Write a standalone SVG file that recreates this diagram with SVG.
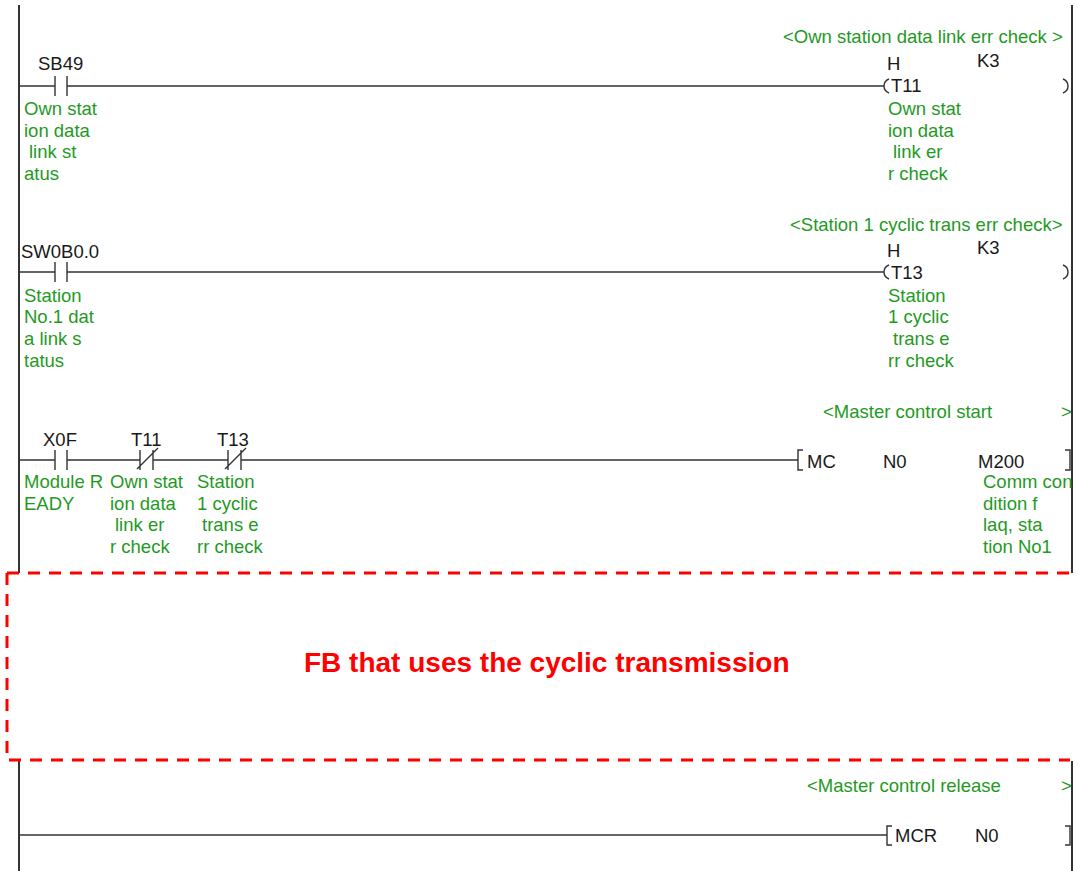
<svg xmlns="http://www.w3.org/2000/svg" width="1078" height="871" viewBox="0 0 1078 871">
<style>
  .t { font-family: "Liberation Sans", Arial, sans-serif; font-size: 18.5px; fill: #1a1a1a; }
  .c { font-family: "Liberation Sans", Arial, sans-serif; font-size: 18.5px; fill: #1f9a1f; }
  .w { fill: none; stroke: #333; stroke-width: 1.3; }
  .rail { fill: none; stroke: #333; stroke-width: 2; }
  .sym { fill: none; stroke: #333; stroke-width: 1.4; }
  .dash { fill: none; stroke: #ff0000; stroke-width: 3; stroke-dasharray: 12 9; }
  .fb { font-family: "Liberation Sans", Arial, sans-serif; font-size: 28px; font-weight: bold; fill: #ff0000; }
</style>
<defs>
  <g id="no">
    <path class="sym" d="M0,-10 V10 M12,-10 V10"/>
  </g>
  <g id="nc">
    <path class="sym" d="M0,-10 V10 M13,-10 V10 M-3,9 L18,-12"/>
  </g>
</defs>
<rect width="1078" height="871" fill="#fff"/>

<g id="connectors">
  <path class="rail" d="M19,5 V573 M1072,5 V573 M19,761 V871 M1072,761 V871"/>
  <path class="w" d="M19,86 H55 M67,86 H884"/>
  <path class="w" d="M19,272 H55 M67,272 H884"/>
  <path class="w" d="M19,460 H55 M67,460 H140 M153,460 H228 M241,460 H798"/>
  <path class="w" d="M19,835 H887"/>
</g>

<g id="fb-region">
  <path class="dash" d="M7,573 H1070"/>
  <path class="dash" d="M7,573 V760 H1070"/>
  <text class="fb" x="304" y="672">FB that uses the cyclic transmission</text>
</g>

<g id="rung1-comment">
  <text class="c" x="783" y="43">&lt;Own station data link err check &gt;</text>
</g>
<g id="contact-SB49">
  <use href="#no" x="55" y="86"/>
  <text class="t" x="38" y="70">SB49</text>
  <text class="c" x="24" y="115">Own stat</text>
  <text class="c" x="24" y="137">ion data</text>
  <text class="c" x="29" y="158">link st</text>
  <text class="c" x="24" y="180">atus</text>
</g>
<g id="coil-T11">
  <path class="sym" d="M889,79 Q884,81 884,86 Q884,91 889,93 M1063,79 Q1068,81 1068,86 Q1068,91 1063,93"/>
  <text class="t" x="887" y="70">H</text>
  <text class="t" x="977" y="67">K3</text>
  <text class="t" x="891" y="92">T11</text>
  <text class="c" x="888" y="115">Own stat</text>
  <text class="c" x="888" y="137">ion data</text>
  <text class="c" x="893" y="158">link er</text>
  <text class="c" x="888" y="180">r check</text>
</g>

<g id="rung2-comment">
  <text class="c" x="790" y="231">&lt;Station 1 cyclic trans err check&gt;</text>
</g>
<g id="contact-SW0B0.0">
  <use href="#no" x="55" y="272"/>
  <text class="t" x="21" y="258">SW0B0.0</text>
  <text class="c" x="24" y="302">Station</text>
  <text class="c" x="24" y="323">No.1 dat</text>
  <text class="c" x="24" y="345">a link s</text>
  <text class="c" x="24" y="367">tatus</text>
</g>
<g id="coil-T13">
  <path class="sym" d="M889,265 Q884,267 884,272 Q884,277 889,279 M1063,265 Q1068,267 1068,272 Q1068,277 1063,279"/>
  <text class="t" x="887" y="257">H</text>
  <text class="t" x="977" y="254">K3</text>
  <text class="t" x="891" y="279">T13</text>
  <text class="c" x="888" y="302">Station</text>
  <text class="c" x="888" y="323">1 cyclic</text>
  <text class="c" x="893" y="345">trans e</text>
  <text class="c" x="888" y="367">rr check</text>
</g>

<g id="rung3-comment">
  <text class="c" y="418"><tspan x="823">&lt;Master control start</tspan><tspan x="1061">&gt;</tspan></text>
</g>
<g id="contact-X0F">
  <use href="#no" x="55" y="460"/>
  <text class="t" x="43" y="446">X0F</text>
  <text class="c" x="24" y="488">Module R</text>
  <text class="c" x="24" y="510">EADY</text>
</g>
<g id="contact-T11">
  <use href="#nc" x="140" y="460"/>
  <text class="t" x="131" y="446">T11</text>
  <text class="c" x="110" y="488">Own stat</text>
  <text class="c" x="110" y="510">ion data</text>
  <text class="c" x="115" y="531">link er</text>
  <text class="c" x="110" y="553">r check</text>
</g>
<g id="contact-T13">
  <use href="#nc" x="228" y="460"/>
  <text class="t" x="217" y="446">T13</text>
  <text class="c" x="197" y="488">Station</text>
  <text class="c" x="197" y="510">1 cyclic</text>
  <text class="c" x="202" y="531">trans e</text>
  <text class="c" x="197" y="553">rr check</text>
</g>
<g id="instr-MC">
  <path class="sym" d="M803,450 H798 V470 H803 M1065,450 H1070 V470 H1065"/>
  <text class="t" x="807" y="468">MC</text>
  <text class="t" x="883" y="468">N0</text>
  <text class="t" x="978" y="468">M200</text>
  <text class="c" x="983" y="488">Comm con</text>
  <text class="c" x="983" y="510">dition f</text>
  <text class="c" x="983" y="531">laq, sta</text>
  <text class="c" x="983" y="553">tion No1</text>
</g>

<g id="rung4-comment">
  <text class="c" y="792"><tspan x="807">&lt;Master control release</tspan><tspan x="1061">&gt;</tspan></text>
</g>
<g id="instr-MCR">
  <path class="sym" d="M892,826 H887 V845 H892 M1065,826 H1070 V845 H1065"/>
  <text class="t" x="895" y="842">MCR</text>
  <text class="t" x="975" y="842">N0</text>
</g>
</svg>
